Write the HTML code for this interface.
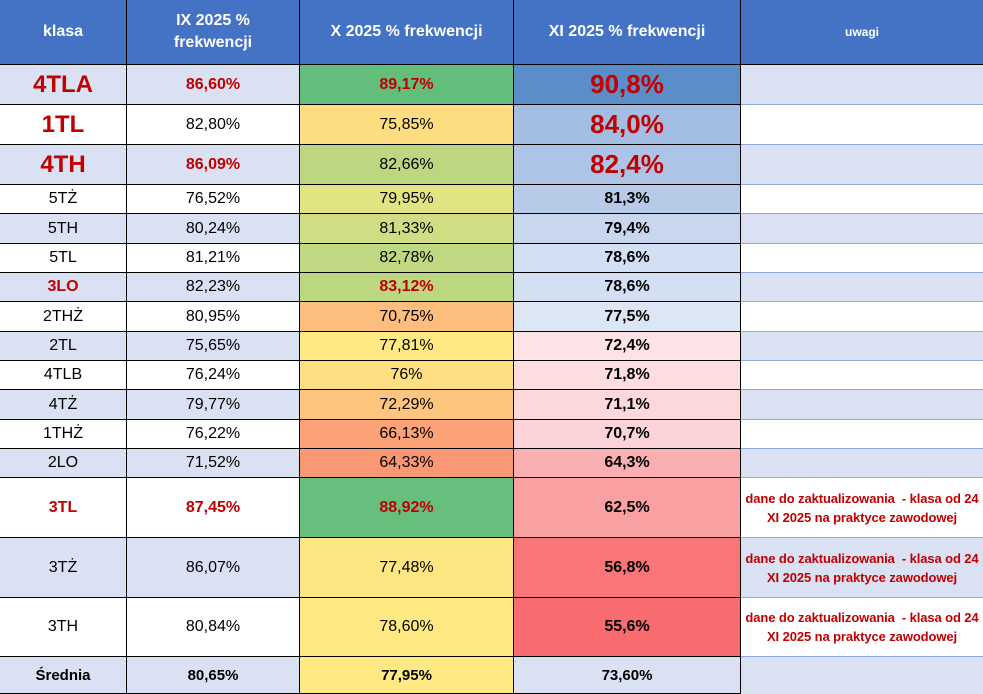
<!DOCTYPE html>
<html><head><meta charset="utf-8"><style>
body{margin:0;width:983px;height:694px;overflow:hidden;background:#fff;font-family:"Liberation Sans",sans-serif}
#t{position:absolute;left:0;top:0;width:983px;height:694px}
.c{position:absolute;box-sizing:border-box;display:flex;align-items:center;justify-content:center;text-align:center;color:#000;font-size:16px;white-space:nowrap}
.h{background:#4472c4;color:#fff;font-weight:bold;font-size:16px;line-height:22px;white-space:normal;border-right:1px solid #000;border-bottom:1px solid #000}
.b{border-right:1px solid #000;border-bottom:1px solid #000}
.u{border-bottom:1px solid #8ea9db}
.red{color:#c00000;font-weight:bold}
.bold{font-weight:bold}
</style></head><body>
<div id="t"></div>
<script>
const classes=["4TLA","1TL","4TH","5TŻ","5TH","5TL","3LO","2THŻ","2TL","4TLB","4TŻ","1THŻ","2LO","3TL","3TŻ","3TH","Średnia"];
const ix=["86,60%","82,80%","86,09%","76,52%","80,24%","81,21%","82,23%","80,95%","75,65%","76,24%","79,77%","76,22%","71,52%","87,45%","86,07%","80,84%","80,65%"];
const x=["89,17%","75,85%","82,66%","79,95%","81,33%","82,78%","83,12%","70,75%","77,81%","76%","72,29%","66,13%","64,33%","88,92%","77,48%","78,60%","77,95%"];
const xi=["90,8%","84,0%","82,4%","81,3%","79,4%","78,6%","78,6%","77,5%","72,4%","71,8%","71,1%","70,7%","64,3%","62,5%","56,8%","55,6%","73,60%"];
const noteLine1="dane do zaktualizowania  - klasa od 24";
const noteLine2="XI 2025 na praktyce zawodowej";
const hasNote=[13,14,15];
const xColors=["#63be7b","#fedd81","#bdd780","#e2e383","#d0dd82","#bfd881","#bbd780","#fdbd7d","#fee983","#fedf81","#fdc57e","#fba276","#f99872","#66bf7c","#fee683","#fee983","#fee983"];
const xiColors=["#5b8ec9","#a4bde3","#adc4e6","#b7cbe9","#c8d7ee","#d3dff2","#d3dff2","#dde6f5","#fde3e6","#fddde0","#fcd8db","#fcd4d8","#fab0b3","#f9a0a3","#f87578","#f86b6e","#d9e1f2"];
const colX=[0,127,300,514,741,983];
const rowY=[0,65,105,145,185,214,244,273,302,332,361,390,420,449,478,538,598,657,694];
const big=[0,1,2], redClass=[0,1,2,6,13], redIx=[0,2,13], redX=[0,6,13];
const t=document.getElementById('t');
function cell(c,r,txt,cls,bg,name){
  const d=document.createElement('div');
  
  
  d.className='c '+cls;
  d.style.left=colX[c]+'px';d.style.width=(colX[c+1]-colX[c])+'px';
  d.style.top=rowY[r]+'px';d.style.height=(rowY[r+1]-rowY[r])+'px';
  if(bg)d.style.background=bg;
  d.textContent=txt;t.appendChild(d);return d;
}
const heads=["klasa","IX 2025 % frekwencji","X 2025 % frekwencji","XI 2025 % frekwencji","uwagi"];
heads.forEach((h,i)=>{const d=cell(i,0,h,'h',null,'header-'+i);if(i==1)d.style.padding='0 30px';if(i==4){d.style.fontSize='12px';d.style.borderRight='none';}});
classes.forEach((k,i)=>{
  const r=i+1, band=(i%2==0)?'#d9e1f2':'#fff';
  const last=i==16;
  let d=cell(0,r,k,'b'+(redClass.includes(i)?' red':'')+(last?' bold':''),band,'class-'+k);
  if(big.includes(i))d.style.fontSize='24px';else if(last)d.style.fontSize='15px';
  d=cell(1,r,ix[i],'b'+(redIx.includes(i)?' red':'')+(last?' bold':''),band,'ix-'+k);
  if(last)d.style.fontSize='15px';
  d=cell(2,r,x[i],'b'+(redX.includes(i)?' red':'')+(last?' bold':''),xColors[i],'x-'+k);
  if(last)d.style.fontSize='15px';
  d=cell(3,r,xi[i],'b bold'+(big.includes(i)?' red':''),xiColors[i],'xi-'+k);
  if(big.includes(i))d.style.fontSize='26px';else if(last)d.style.fontSize='15px';
  d=cell(4,r,'',last?'':'u',band,'note-'+k);
  if(hasNote.includes(i)){
    d.style.flexDirection='column';d.style.fontSize='13px';d.style.lineHeight='19px';d.style.color='#c00000';d.style.fontWeight='bold';d.style.letterSpacing='-0.1px';d.style.whiteSpace='pre';
    const a=document.createElement('div');a.textContent=noteLine1;d.appendChild(a);
    const b=document.createElement('div');b.textContent=noteLine2;d.appendChild(b);
  }
});
</script>
</body></html>
